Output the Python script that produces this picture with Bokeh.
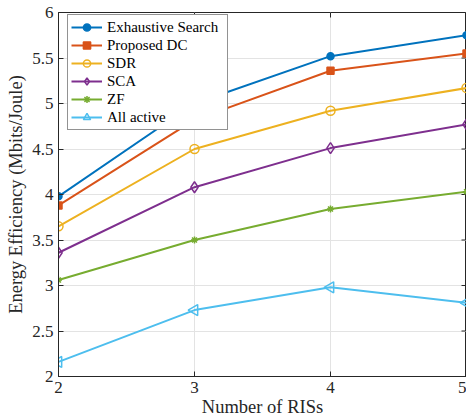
from bokeh.plotting import figure
from bokeh.models import Range1d, FixedTicker, Legend
from bokeh.embed import file_html
from bokeh.resources import INLINE
import math

# ---- data ----
num_ris = [2, 3, 4, 5]
exhaustive = [3.98, 5.00, 5.52, 5.75]
proposed_dc = [3.88, 4.82, 5.36, 5.55]
sdr = [3.65, 4.50, 4.92, 5.17]
sca = [3.36, 4.08, 4.51, 4.77]
zf = [3.06, 3.50, 3.84, 4.03]
all_active = [2.16, 2.73, 2.98, 2.81]

x_ticks = [2, 3, 4, 5]
x_tick_labels = ["2", "3", "4", "5"]
y_ticks = [2, 2.5, 3, 3.5, 4, 4.5, 5, 5.5, 6]
y_tick_labels = ["2", "2.5", "3", "3.5", "4", "4.5", "5", "5.5", "6"]

FONT = "Liberation Serif"
AX = "#262626"

ML, MT, MB, MR = 58, 12, 44, 0
FW, FH = 408, 364
XR = (2, 5)
YR = (2, 6)

p = figure(frame_width=FW, frame_height=FH, output_backend="svg", toolbar_location=None,
           x_range=Range1d(*XR), y_range=Range1d(*YR), min_border=0,
           min_border_left=ML, min_border_top=MT, min_border_bottom=MB, min_border_right=MR,
           outline_line_color=AX, outline_line_width=1)
p.background_fill_color = "white"
p.border_fill_color = "white"

def style_axis(ax, ticks, labels):
    ax.ticker = FixedTicker(ticks=ticks)
    ax.major_label_overrides = {t: l for t, l in zip(ticks, labels)}
    ax.major_tick_in = 5
    ax.major_tick_out = 0
    ax.minor_tick_in = 0
    ax.minor_tick_out = 0
    ax.axis_line_color = AX
    ax.major_tick_line_color = AX
    ax.major_label_text_font = FONT
    ax.major_label_text_color = AX
    ax.major_label_text_font_size = "17px"
    ax.axis_label_text_font = FONT
    ax.axis_label_text_color = AX
    ax.axis_label_text_font_style = "normal"
    ax.axis_label_text_font_size = "18.5px"

style_axis(p.xaxis[0], x_ticks, x_tick_labels)
style_axis(p.yaxis[0], y_ticks, y_tick_labels)
p.xaxis[0].axis_label = "Number of RISs"
p.yaxis[0].axis_label = "Energy Efficiency (Mbits/Joule)"
p.xaxis[0].major_label_standoff = 5
p.xaxis[0].axis_label_standoff = 1
p.yaxis[0].major_label_standoff = 5
p.yaxis[0].axis_label_standoff = 3

p.xgrid.ticker = FixedTicker(ticks=x_ticks)
p.ygrid.ticker = FixedTicker(ticks=y_ticks)
p.grid.grid_line_color = "#e3e3e3"
p.grid.grid_line_width = 1

# inward tick marks on the top and right box edges (MATLAB "box on")
dy = 5 * (YR[1] - YR[0]) / FH
dx = 5 * (XR[1] - XR[0]) / FW
p.segment(x0=x_ticks, y0=[YR[1]] * len(x_ticks), x1=x_ticks, y1=[YR[1] - dy] * len(x_ticks),
          line_color=AX, line_width=1)
p.segment(x0=[XR[1]] * len(y_ticks), y0=y_ticks, x1=[XR[1] - dx] * len(y_ticks), y1=y_ticks,
          line_color=AX, line_width=1)

series = [
    ("Exhaustive Search", exhaustive, "#0072BD", "circle", 7, True, 0),
    ("Proposed DC", proposed_dc, "#D95319", "square", 7, True, 0),
    ("SDR", sdr, "#EDB120", "circle", 9, False, 0),
    ("SCA", sca, "#7E2F8E", "diamond", 11, False, 0),
    ("ZF", zf, "#77AC30", "asterisk", 7, False, 0),
    ("All active", all_active, "#4DBEEE", "triangle", 11, False, math.pi / 2),
]

items = []
for name, vals, col, mk, sz, filled, ang in series:
    r1 = p.line(num_ris, vals, line_color=col, line_width=2)
    r2 = p.scatter(num_ris, vals, marker=mk, size=sz, angle=ang,
                   line_color=col, line_width=1.5,
                   fill_color=col if filled else "white",
                   fill_alpha=1.0 if filled else 0.0)
    items.append((name, [r1, r2]))

legend = Legend(items=items, location=(9, 246))
legend.margin = 0
legend.padding = 3
legend.spacing = 0
legend.glyph_width = 31
legend.glyph_height = 18
legend.label_height = 18
legend.label_width = 117
legend.label_standoff = 5
legend.label_text_font = FONT
legend.label_text_font_size = "15px"
legend.label_text_color = "black"
legend.border_line_color = AX
legend.border_line_width = 1
legend.background_fill_color = "white"
legend.background_fill_alpha = 1.0
p.add_layout(legend, "center")

open("out.html", "w").write(file_html(p, INLINE))
